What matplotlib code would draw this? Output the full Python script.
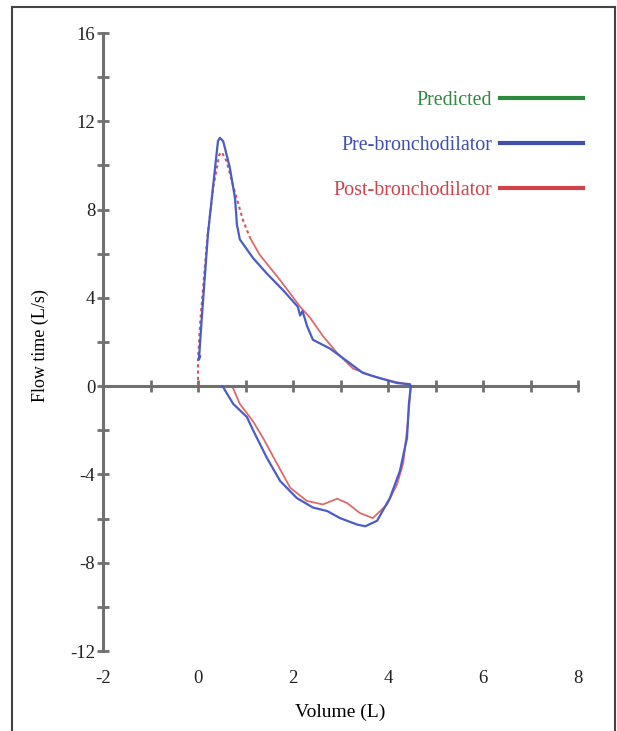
import numpy as np
import matplotlib
matplotlib.use('Agg')
import matplotlib.pyplot as plt
from matplotlib.lines import Line2D

plt.rcParams['font.family'] = ['Liberation Serif', 'DejaVu Serif']
plt.rcParams['axes.unicode_minus'] = False

# pre-bronchodilator loop (volume L, flow L/s)
pre_vol = [0.04, 0.02, 0.08, 0.21, 0.32, 0.42, 0.46, 0.53, 0.67, 0.78, 0.82, 0.84, 0.88,
           1.16, 1.45, 1.79, 2.10, 2.15, 2.20, 2.30, 2.42, 2.78, 3.14, 3.47, 3.83, 4.19, 4.46,
           4.48, 4.44, 4.40, 4.25, 4.04, 3.77, 3.52, 3.35, 2.99, 2.72, 2.42, 2.08, 1.73,
           1.45, 1.16, 1.03, 0.74, 0.53, 0.50]
pre_flow = [1.36, 1.2, 3.1, 6.9, 9.1, 11.1, 11.25, 11.1, 9.9, 8.5, 7.3, 7.1, 6.65,
            5.8, 5.1, 4.35, 3.6, 3.2, 3.4, 2.7, 2.1, 1.7, 1.13, 0.6, 0.36, 0.14, 0.09,
            0.0, -0.8, -2.35, -3.85, -5.07, -6.1, -6.35, -6.27, -5.98, -5.66, -5.5, -5.07, -4.3,
            -3.25, -2.0, -1.4, -0.8, -0.05, 0.0]

# post-bronchodilator loop
post_vol_a = [0.0, 0.0, 0.05, 0.2, 0.32, 0.45, 0.5, 0.6, 0.75, 0.95, 1.1]
post_flow_a = [0.0, 1.2, 3.0, 6.8, 9.0, 10.5, 10.6, 10.2, 9.0, 7.5, 6.7]
post_vol_b = [1.1, 1.3, 1.73, 2.15, 2.36, 2.63, 2.93, 3.26, 3.68, 4.10, 4.42,
              4.48, 4.42, 4.32, 4.19, 3.98, 3.68, 3.41, 3.14, 2.93, 2.63, 2.29,
              1.94, 1.66, 1.37, 1.16, 0.88, 0.74, 0.72]
post_flow_b = [6.7, 5.95, 4.8, 3.6, 3.1, 2.27, 1.5, 0.8, 0.45, 0.22, 0.08,
               0.0, -1.6, -3.5, -4.45, -5.36, -5.98, -5.75, -5.3, -5.1, -5.36, -5.2,
               -4.6, -3.5, -2.35, -1.6, -0.8, -0.1, 0.0]

legend_labels = ['Predicted', 'Pre-bronchodilator', 'Post-bronchodilator']
legend_colors = ['#2f8a3f', '#3f4fb0', '#d0424c']

x_ticks_major = [-2, 0, 2, 4, 6, 8]
y_ticks_major = [-12, -8, -4, 0, 4, 8, 12, 16]

fig = plt.figure(figsize=(6.17, 7.31), dpi=100)
ax = fig.add_axes([103/617, 1 - 651/731, 475/617, 618/731])

axis_col = '#707070'
ax.plot(pre_vol, pre_flow, color='#4a5cc8', lw=1.6, zorder=3)
ax.plot(post_vol_a, post_flow_a, color='#d9525a', lw=1.5, ls=(0, (1.5, 1.5)), zorder=2)
ax.plot(post_vol_b, post_flow_b, color='#dc6a6a', lw=1.3, zorder=2)

ax.set_xlim(-2, 8)
ax.set_ylim(-12, 16)

for s in ['top', 'right']:
    ax.spines[s].set_visible(False)
ax.spines['bottom'].set_position(('data', 0))
ax.spines['left'].set_position(('data', -2))
for s in ['bottom', 'left']:
    ax.spines[s].set_color(axis_col)
    ax.spines[s].set_linewidth(2.2)

ax.set_xticks(range(-2, 9))
ax.set_xticklabels([])
ax.set_yticks(range(-12, 17, 2))
ax.set_yticklabels([str(v) if v in y_ticks_major else '' for v in range(-12, 17, 2)])
ax.tick_params(axis='both', direction='inout', length=9, width=2, color=axis_col,
               labelsize=13.5, labelcolor='#222222')
ax.tick_params(axis='y', pad=1)

sec = ax.secondary_xaxis(0.0)
sec.set_xticks(x_ticks_major)
sec.spines['bottom'].set_visible(False)
sec.tick_params(length=0, labelsize=13.5, labelcolor='#222222', pad=14)

ax.set_xlabel('Volume (L)', fontsize=14)
ax.xaxis.set_label_coords(0.5, -0.085)
ax.set_ylabel('Flow time (L/s)', fontsize=13)
ax.yaxis.set_label_coords(-0.113, 0.495)

handles = [Line2D([0], [0], color=c, lw=3) for c in legend_colors]
leg = ax.legend(handles, legend_labels, loc='upper right', frameon=False,
                markerfirst=False, handlelength=4.15, labelspacing=1.3,
                fontsize=14.4, bbox_to_anchor=(601/617, 1 - 73/731),
                bbox_transform=fig.transFigure, handletextpad=0.4)
for t, c in zip(leg.get_texts(), legend_colors):
    t.set_color(c)

# outer frame
fig.add_artist(Line2D([12/617, 12/617], [0, 1 - 7/731], color='#444444', lw=1.5))
fig.add_artist(Line2D([12/617, 615/617], [1 - 7/731, 1 - 7/731], color='#444444', lw=1.5))
fig.add_artist(Line2D([615/617, 615/617], [0, 1 - 7/731], color='#444444', lw=1.5))

fig.savefig('out.png', dpi=100)
